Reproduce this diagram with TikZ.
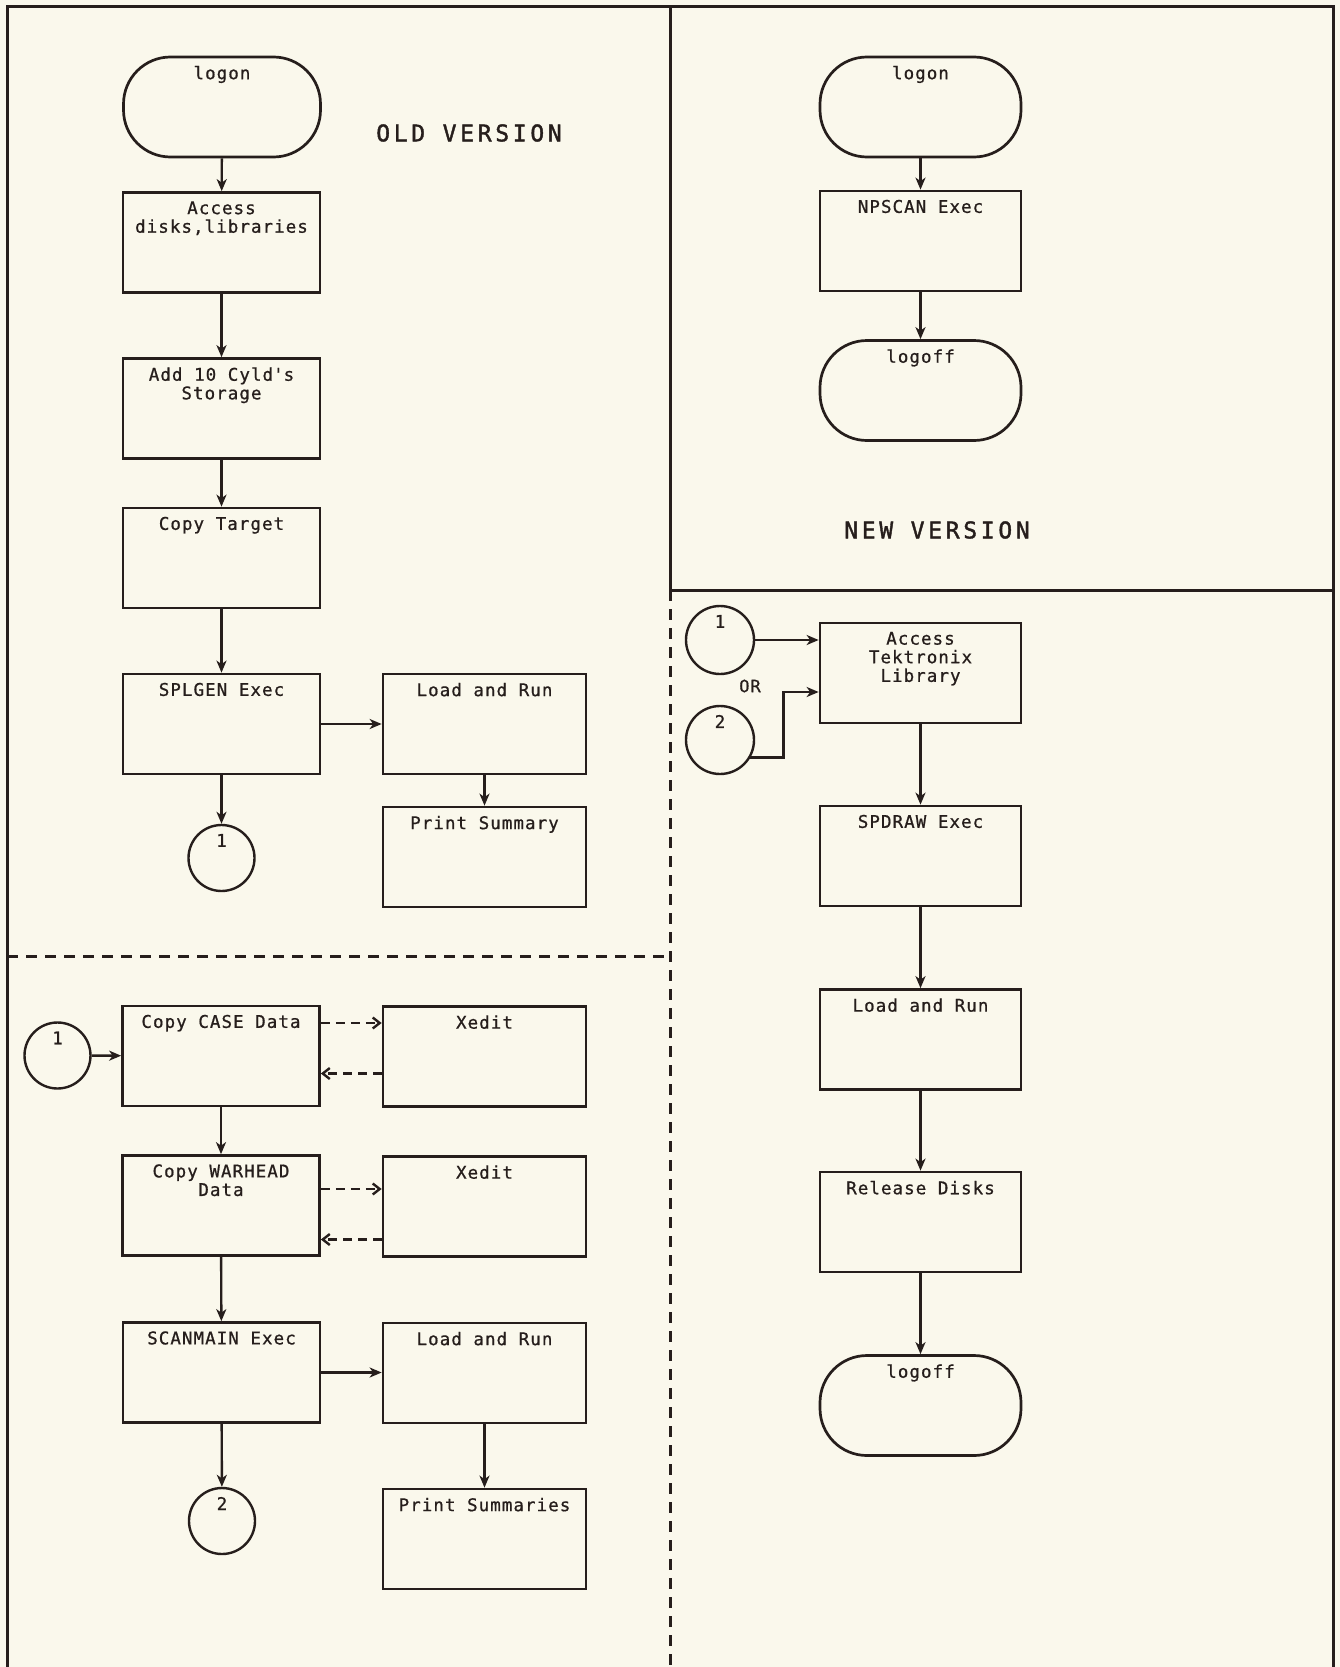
\documentclass[tikz,border=0pt]{standalone}
\usepackage{fontspec}
\newfontfamily\plotfont[LetterSpace=6,FakeBold=0.8]{DejaVu Sans Mono}
\newfontfamily\titlefont[LetterSpace=16,FakeBold=1.6]{DejaVu Sans Mono}
\usetikzlibrary{arrows.meta}
\definecolor{paper}{RGB}{250,248,236}
\definecolor{ink}{RGB}{38,30,28}
\tikzset{
  box/.style={draw=ink, line width=2.7pt, minimum width=197pt, minimum height=100pt, inner sep=0pt},
  wbox/.style={box, minimum width=203pt},
  term/.style={box, rounded corners=47pt},
  conn/.style={draw=ink, circle, line width=2.4pt, minimum size=66pt, inner sep=0pt},
  lab/.style={anchor=north, align=center, inner sep=0pt, yshift=-10pt, text=ink,
              font=\plotfont\fontsize{17.5}{18.6}\selectfont},
  title/.style={inner sep=0pt, text=ink, font=\titlefont\fontsize{23}{25}\selectfont},
  arr/.style={draw=ink, line width=2.4pt, -{Stealth[length=12pt,width=10pt,inset=3.5pt]}},
  darr/.style={draw=ink, line width=2.4pt, dash pattern=on 9pt off 6pt, -{Straight Barb[length=7pt,width=11pt]}},
  frame/.style={draw=ink, line width=3pt},
  dframe/.style={draw=ink, line width=3pt, dash pattern=on 11pt off 8pt},
}
\begin{document}
\begin{tikzpicture}[x=1pt,y=-1pt]
\fill[paper] (0,0) rectangle (1340,1667);
\useasboundingbox (0,0) rectangle (1340,1667);

% frame and panel dividers
\coordinate (tl) at (7,7);
\coordinate (tr) at (1333,7);
\coordinate (bl) at (7,1667);
\coordinate (br) at (1333,1667);
\coordinate (mt) at (670,7);
\coordinate (mm) at (670,590);
\coordinate (mb) at (670,1667);
\coordinate (rm) at (1333,590);
\coordinate (ld) at (7,956);
\coordinate (md) at (670,956);
\draw[frame] (bl) -- (tl) -- (tr) -- (br);
\draw[frame] (mt) -- (mm);
\draw[frame] (mm) -- (rm);
\draw[dframe] (mm) -- (mb);
\draw[dframe] (ld) -- (md);

% ---------------- OLD VERSION ----------------
\node[title] (oldt) at (469,133) {OLD VERSION};
\node[term, label={[lab]north:logon}] (ologon) at (222,107) {};
\node[box, label={[lab]north:{Access\\disks,libraries}}] (oacc) at (221.5,242.5) {};
\node[box, label={[lab]north:{Add 10 Cyld\textquotesingle s\\Storage}}] (oadd) at (221.5,408.5) {};
\node[box, label={[lab]north:Copy Target}] (ocopy) at (221.5,558) {};
\node[box, label={[lab]north:SPLGEN Exec}] (ospl) at (221.5,724) {};
\node[wbox, label={[lab]north:Load and Run}] (olr) at (484.5,724) {};
\node[wbox, label={[lab]north:Print Summary}] (ops) at (484.5,857) {};
\node[conn, label={[lab]north:1}] (oc1) at (221.5,858) {};

\draw[arr] (ologon) -- (oacc);
\draw[arr] (oacc) -- (oadd);
\draw[arr] (oadd) -- (ocopy);
\draw[arr] (ocopy) -- (ospl);
\draw[arr] (ospl) -- (olr);
\draw[arr] (olr) -- (ops);
\draw[arr] (ospl) -- (oc1);

% lower-left
\node[conn, label={[lab]north:1}] (lc1) at (57.5,1055.5) {};
\node[box, label={[lab]north:Copy CASE Data}] (case) at (221,1056) {};
\node[wbox, label={[lab]north:Xedit}] (xed1) at (484.5,1056.5) {};
\node[box, label={[lab]north:{Copy WARHEAD\\Data}}] (warh) at (221,1205.5) {};
\node[wbox, label={[lab]north:Xedit}] (xed2) at (484.5,1206.5) {};
\node[box, label={[lab]north:SCANMAIN Exec}] (scan) at (221.5,1372.5) {};
\node[wbox, label={[lab]north:Load and Run}] (lr2) at (484.5,1373) {};
\node[conn, label={[lab]north:2}] (lc2) at (222,1521) {};
\node[wbox, label={[lab]north:Print Summaries}] (ps2) at (484.5,1539) {};

\draw[arr] (lc1) -- (case);
\draw[darr] ([yshift=33pt]case.east) -- ([yshift=33pt]case.east -| xed1.west);
\draw[darr] ([yshift=-17pt]xed1.west) -- ([yshift=-17pt]xed1.west -| case.east);
\draw[arr] (case) -- (warh);
\draw[darr] ([yshift=16.5pt]warh.east) -- ([yshift=16.5pt]warh.east -| xed2.west);
\draw[darr] ([yshift=-33pt]xed2.west) -- ([yshift=-33pt]xed2.west -| warh.east);
\draw[arr] (warh) -- (scan);
\draw[arr] (scan.east) -- (scan.east -| lr2.west);
\draw[arr] (lr2) -- (ps2);
\draw[arr] (scan) -- (lc2);

% ---------------- NEW VERSION ----------------
\node[title] (newt) at (937,530) {NEW VERSION};
\node[term, minimum width=201pt, label={[lab]north:logon}] (nlogon) at (920.5,107) {};
\node[box, minimum width=201pt, label={[lab]north:NPSCAN Exec}] (npscan) at (920.5,241) {};
\node[term, minimum width=201pt, label={[lab]north:logoff}] (nlogoff) at (920.5,390.5) {};
\draw[arr] (nlogon) -- (npscan);
\draw[arr] (npscan) -- (nlogoff);

\node[conn, minimum size=68pt, label={[lab]north:1}] (rc1) at (720,640) {};
\node[conn, minimum size=68pt, label={[lab]north:2}] (rc2) at (720,740) {};
\node[inner sep=0pt, text=ink, font=\plotfont\fontsize{17}{18}\selectfont] (or) at (750,686) {OR};
\node[box, minimum width=201pt, label={[lab]north:{Access\\Tektronix\\Library}}] (tek) at (920.5,673) {};
\node[box, minimum width=201pt, label={[lab]north:SPDRAW Exec}] (spd) at (920.5,856) {};
\node[box, minimum width=201pt, label={[lab]north:Load and Run}] (nlr) at (920.5,1039.5) {};
\node[box, minimum width=201pt, label={[lab]north:Release Disks}] (rel) at (920.5,1222) {};
\node[term, minimum width=201pt, label={[lab]north:logoff}] (nlogoff2) at (920.5,1405.5) {};

\draw[arr] (rc1.east) -- (rc1.east -| tek.west);
\draw[arr] (rc2.-30) -- ++(33,0) |- ([yshift=-19pt]tek.west);
\draw[arr] (tek) -- (spd);
\draw[arr] (spd) -- (nlr);
\draw[arr] (nlr) -- (rel);
\draw[arr] (rel) -- (nlogoff2);
\end{tikzpicture}
\end{document}
